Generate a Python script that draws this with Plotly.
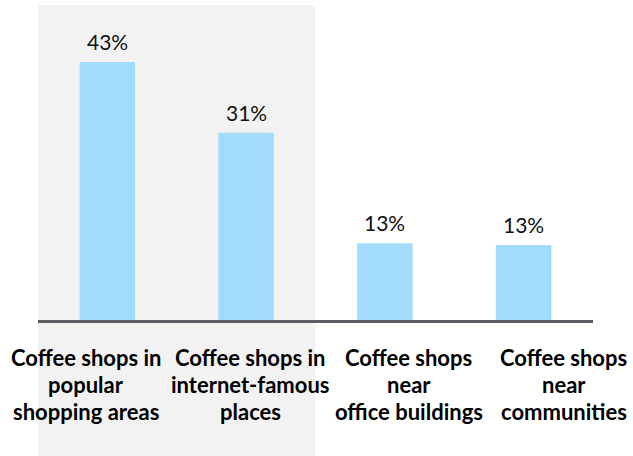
import plotly.graph_objects as go

categories = [
    "Coffee shops in<br>popular<br>shopping areas",
    "Coffee shops in<br>internet-famous<br>places",
    "Coffee shops<br>near<br>office buildings",
    "Coffee shops<br>near<br>communities",
]
values = [43.0, 31.2, 12.8, 12.5]
value_labels = ["43%", "31%", "13%", "13%"]

BAR_COLOR = "#A2DBFB"
BG_GRAY = "#F2F2F2"
AXIS_COLOR = "#5A5D62"
FONT = "Lato"

fig = go.Figure()
fig.add_trace(go.Bar(
    x=list(range(len(categories))),
    y=values,
    marker=dict(color=BAR_COLOR, line=dict(width=0)),
    width=0.4,
    hoverinfo="skip",
))

# gray highlighted band behind first two categories
fig.add_shape(type="rect", xref="x", yref="paper",
              x0=-0.5, x1=1.5, y0=-0.5, y1=1.0,
              fillcolor=BG_GRAY, line=dict(width=0), layer="below")

annotations = []
for i, (v, lab) in enumerate(zip(values, value_labels)):
    annotations.append(dict(x=i, y=v, xref="x", yref="y", text=lab,
                            showarrow=False, yanchor="bottom", yshift=6,
                            font=dict(family=FONT, size=21, color="#111111")))

label_xshift = [-21, 4, 24, 40]
line_yshift = [-37, -64, -91]
for i, cat in enumerate(categories):
    for j, line in enumerate(cat.split("<br>")):
        annotations.append(dict(x=i, y=0, xref="x", yref="paper", text=line,
                                showarrow=False, yanchor="middle", xanchor="center",
                                xshift=label_xshift[i], yshift=line_yshift[j],
                                font=dict(family=FONT, size=22, color="#000000",
                                          weight="bold")))

fig.update_layout(
    width=633, height=456,
    margin=dict(l=38, r=40, t=5, b=136),
    paper_bgcolor="white", plot_bgcolor="rgba(0,0,0,0)",
    showlegend=False,
    bargap=0.6,
    annotations=annotations,
    xaxis=dict(range=[-0.5, 3.5], showticklabels=False, showgrid=False,
               zeroline=False, showline=True, linecolor=AXIS_COLOR, linewidth=3,
               ticks="", fixedrange=True),
    yaxis=dict(range=[0, 52.5], visible=False, showgrid=False, zeroline=False,
               fixedrange=True),
)

fig.write_html("out.html", config={"displayModeBar": False, "staticPlot": True},
               post_script="document.body.style.margin='0';document.body.style.overflow='hidden';")
